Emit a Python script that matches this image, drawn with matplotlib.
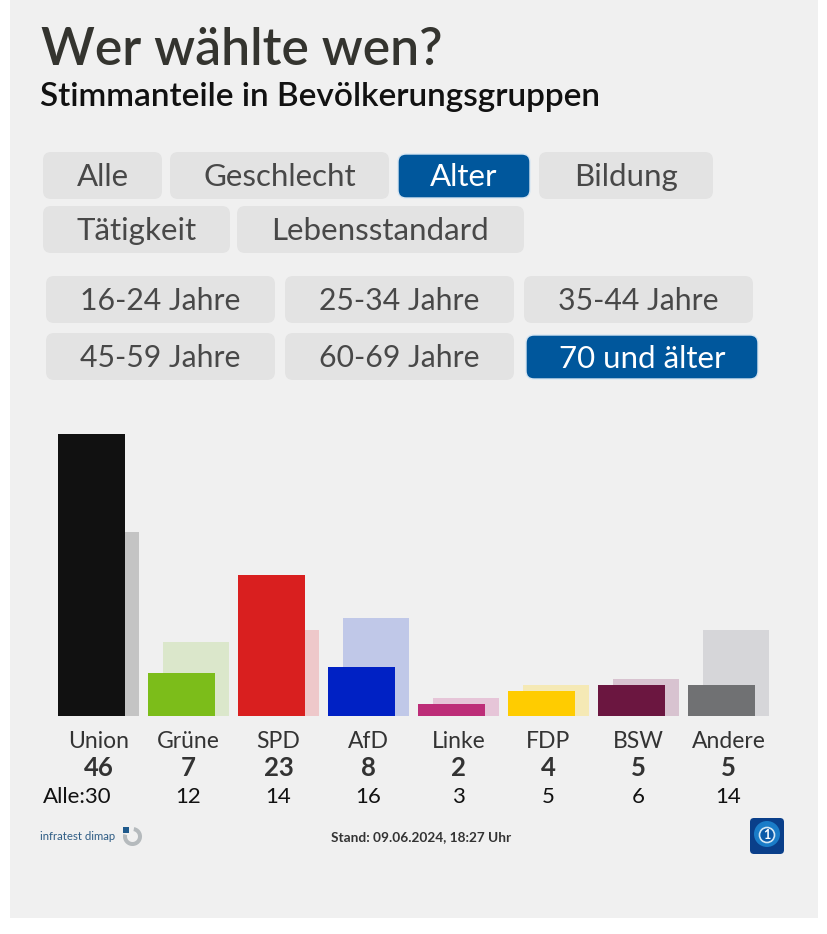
import matplotlib

matplotlib.use("Agg")
import matplotlib.pyplot as plt
import numpy as np
from matplotlib.patches import Circle, FancyBboxPatch, Rectangle, Wedge

W, H = 828, 934
FONT = "Lato"
DARK = "#34342f"
BLUE = "#00579c"

parties = ["Union", "Grüne", "SPD", "AfD", "Linke", "FDP", "BSW", "Andere"]
group_values = [46, 7, 23, 8, 2, 4, 5, 5]
all_values = [30, 12, 14, 16, 3, 5, 6, 14]
main_colors = ["#111111", "#7cbd1a", "#d91f1f", "#0021c4", "#bd2d78", "#ffcc00", "#6b1640", "#707173"]
back_colors = ["#c4c4c4", "#dbe7cb", "#eec8ca", "#c0c8e8", "#e6c5d8", "#f5e9b5", "#d8c3d0", "#d6d6d9"]

# label, left, right, top, bottom in pixels, active
buttons = [
    ("Alle", 43, 162, 152, 199, False),
    ("Geschlecht", 170, 389, 152, 199, False),
    ("Alter", 398, 530, 154, 198, True),
    ("Bildung", 539, 713, 152, 199, False),
    ("Tätigkeit", 43, 230, 206, 253, False),
    ("Lebensstandard", 237, 524, 206, 253, False),
    ("16-24 Jahre", 46, 275, 276, 323, False),
    ("25-34 Jahre", 285, 514, 276, 323, False),
    ("35-44 Jahre", 524, 753, 276, 323, False),
    ("45-59 Jahre", 46, 275, 333, 380, False),
    ("60-69 Jahre", 285, 514, 333, 380, False),
    ("70 und älter", 526, 758, 335, 379, True),
]

fig = plt.figure(figsize=(W / 100, H / 100), dpi=100, facecolor="white")

# page layer in pixel coordinates
page = fig.add_axes([0, 0, 1, 1])
page.set_xlim(0, W)
page.set_ylim(H, 0)
page.set_axis_off()
page.add_patch(Rectangle((10, -2), 808, 920, color="#f0f0f0", lw=0))

page.text(41, 65, "Wer wählte wen?", fontsize=37.2, fontweight=600, family=FONT,
          color=DARK, va="baseline", ha="left")
page.text(40, 106, "Stimmanteile in Bevölkerungsgruppen", fontsize=24, fontweight=600,
          family=FONT, color="#111111", va="baseline", ha="left")

for label, x0, x1, y0, y1, active in buttons:
    page.add_patch(FancyBboxPatch((x0 + 8, y0 + 8), x1 - x0 - 16, y1 - y0 - 16,
                                  boxstyle="round,pad=8,rounding_size=8",
                                  fc=BLUE if active else "#e3e3e3",
                                  ec="#d8e6f2" if active else "none", lw=1 if active else 0))
    size = 21.7 if "Jahre" in label else 22.5
    page.text((x0 + x1) / 2, (y0 + y1) / 2 + 10.5, label, fontsize=size, family=FONT,
              color="white" if active else "#484848", ha="center", va="baseline")

# chart layer: one y unit is 6.13 px, one slot is 90 px
chart = fig.add_axes([40 / W, 1 - 716 / H, 750 / W, 296 / H])
chart.set_xlim((40 - 98.7) / 90, (790 - 98.7) / 90)
chart.set_ylim(0, 296 / 6.13)
chart.set_axis_off()
x = np.arange(len(parties))
chart.bar(x + 0.08, all_values, width=0.74, color=back_colors, lw=0)
chart.bar(x - 0.08, group_values, width=0.74, color=main_colors, lw=0)

for i, party in enumerate(parties):
    cx = 98.5 + 90 * i
    page.text(cx, 748, party, fontsize=16.5, family=FONT, color="#333333", ha="center", va="baseline")
    page.text(cx, 776, str(group_values[i]), fontsize=18.5, family=FONT, fontweight="bold",
              color="#333333", ha="center", va="baseline")
    if i == 0:
        page.text(112, 803, f"Alle:{all_values[i]}", fontsize=16, family=FONT, color="#111111",
                  ha="right", va="baseline")
    else:
        page.text(cx, 803, str(all_values[i]), fontsize=16, family=FONT, color="#111111",
                  ha="center", va="baseline")

# footer
page.text(40, 840, "infratest dimap", fontsize=8.2, family=FONT, color="#2f5d85", ha="left", va="baseline")
page.add_patch(Wedge((132.5, 836.5), 9.5, -80, 195, width=4, fc="#b5babd", lw=0))
page.add_patch(Rectangle((123, 827), 6, 6, fc="#1f5a8c", lw=0))
page.text(421, 841, "Stand: 09.06.2024, 18:27 Uhr", fontsize=9.8, family=FONT, fontweight="bold",
          color="#333333", ha="center", va="baseline")

page.add_patch(FancyBboxPatch((754, 822), 26, 28, boxstyle="round,pad=4,rounding_size=4",
                              fc="#0a3f8a", lw=0))
page.add_patch(Circle((767, 834), 13, fc="#1a7cc8", lw=0))
page.add_patch(Circle((767, 835), 7.5, fc="#0b5aa8", ec="#d5e8f5", lw=1.2))
page.text(767, 839, "1", fontsize=9, fontweight="bold", family=FONT, color="white", ha="center", va="baseline")

fig.savefig("out.png", dpi=100, facecolor="white")
